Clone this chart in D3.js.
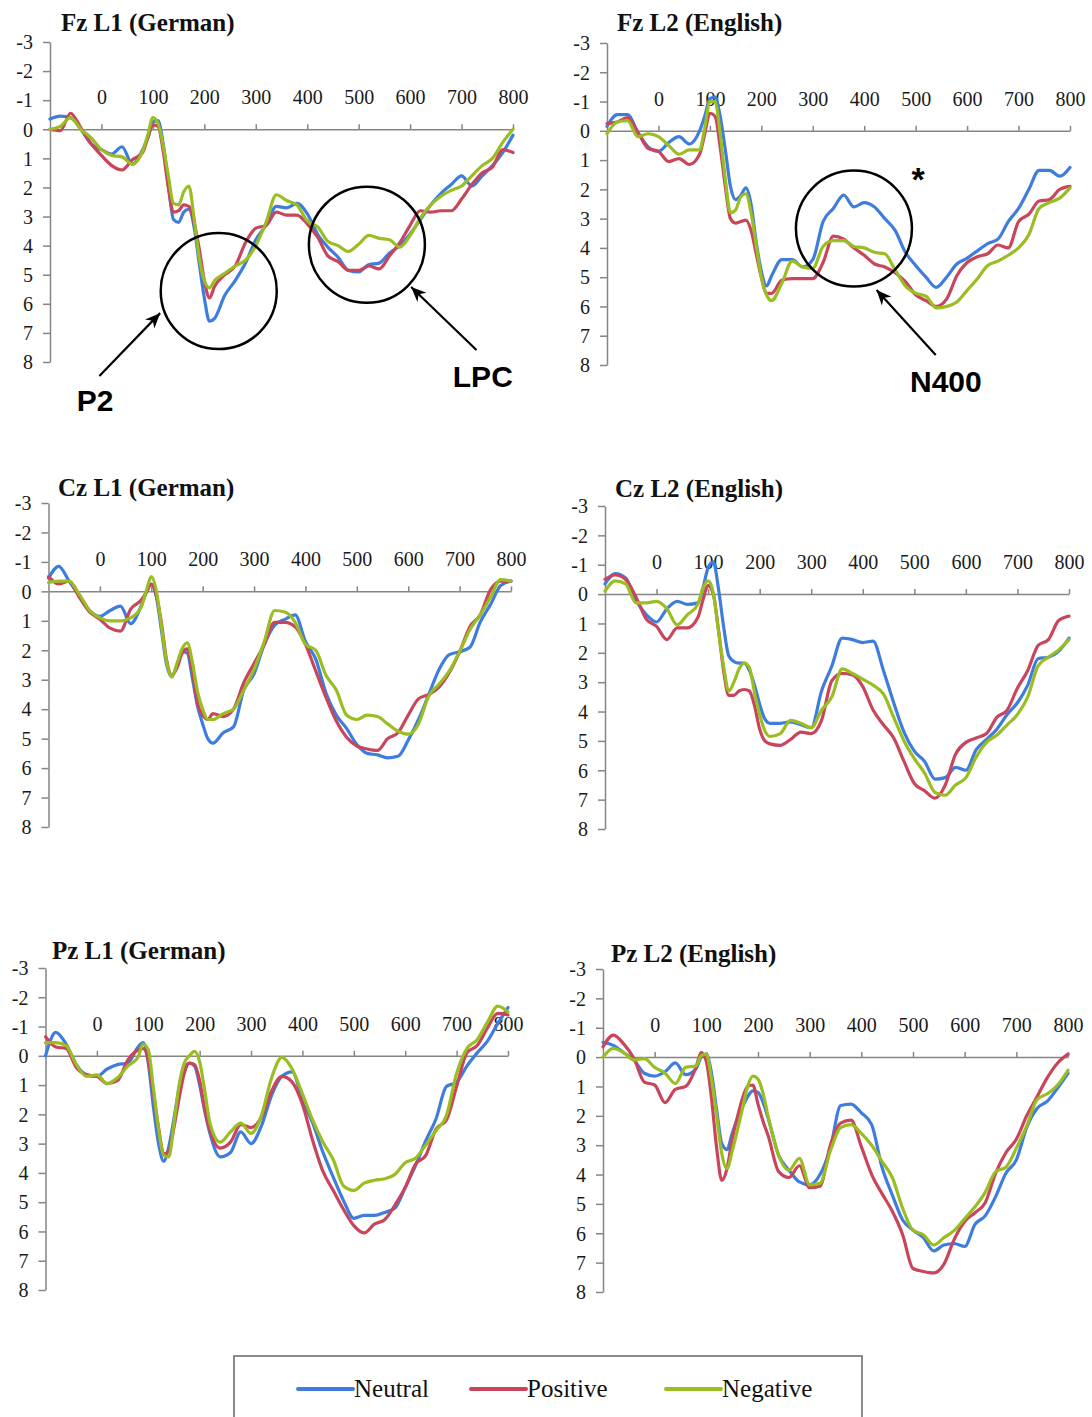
<!DOCTYPE html>
<html>
<head>
<meta charset="utf-8">
<script src="https://cdn.jsdelivr.net/npm/d3@7"></script>
<style>
  body { margin: 0; background: #ffffff; }
  svg { display: block; }
</style>
</head>
<body>
<svg id="fig" width="1092" height="1417"></svg>
<script>
// Sample times (ms after stimulus onset); denser around the early components
const times = [-100,-80,-60,-40,-20,0,20,40,60,80,
  90,100,110,120,130,140,150,160,170,180,190,200,210,220,
  240,260,280,300,320,340,360,380,400,420,440,460,480,500,520,540,560,580,600,620,640,660,680,700,720,740,760,780,800];

// Grand-average amplitudes (µV), one array per electrode / language / condition
const fzL1Neutral = [-0.35,-0.45,-0.4,0.0,0.5,0.7,0.85,0.6,1.2,0.7,
  0.3,-0.25,-0.3,0.5,1.9,3.1,3.2,2.85,2.75,3.35,4.6,5.8,6.6,6.5,
  5.7,5.2,4.6,3.8,3.3,2.65,2.7,2.55,2.9,3.6,4.05,4.4,4.85,4.9,4.65,4.6,4.25,4.0,3.6,3.1,2.6,2.2,1.9,1.6,1.95,1.6,1.25,0.8,0.2];
const fzL1Positive = [0.0,0.05,-0.55,-0.05,0.5,0.9,1.25,1.4,1.05,0.8,
  0.3,-0.15,-0.1,0.75,2.0,2.85,2.8,2.6,2.65,3.2,4.1,5.2,5.8,5.4,
  5.0,4.7,3.9,3.4,3.3,2.85,2.95,2.95,3.25,3.7,4.35,4.55,4.85,4.85,4.7,4.8,4.35,3.9,3.3,2.8,2.85,2.8,2.8,2.4,1.9,1.5,1.3,0.7,0.8];
const fzL1Negative = [0.0,-0.1,-0.4,0.0,0.3,0.7,0.9,0.95,1.2,0.75,
  0.2,-0.4,-0.2,0.55,1.6,2.55,2.6,2.15,1.95,3.05,4.4,5.2,5.45,5.2,
  4.95,4.7,4.5,4.0,3.2,2.25,2.45,2.6,3.15,3.35,3.85,4.0,4.2,3.95,3.65,3.75,3.8,4.05,3.65,3.05,2.6,2.3,2.1,1.95,1.6,1.25,1.0,0.45,0.0];

const fzL2Neutral = [-0.15,-0.55,-0.55,0.05,0.55,0.7,0.4,0.2,0.45,0.0,
  -0.5,-1.1,-1.15,-0.5,0.65,1.9,2.35,2.2,1.95,2.5,3.8,4.8,5.3,4.95,
  4.4,4.4,4.65,4.4,3.1,2.65,2.2,2.6,2.45,2.6,3.0,3.4,4.15,4.6,5.0,5.35,5.0,4.55,4.35,4.1,3.85,3.7,3.1,2.65,2.0,1.35,1.35,1.55,1.25];
const fzL2Positive = [-0.25,-0.3,-0.45,0.05,0.6,0.7,1.05,0.95,1.15,0.8,
  0.1,-0.6,-0.5,0.55,1.9,3.0,3.15,3.1,3.05,3.4,4.2,5.0,5.55,5.55,
  5.1,5.05,5.05,5.05,4.5,3.6,3.7,4.0,4.25,4.55,4.65,4.85,5.15,5.6,5.8,6.0,5.75,4.95,4.5,4.3,4.2,3.9,4.0,3.1,2.85,2.4,2.35,2.0,1.9];
const fzL2Negative = [0.1,-0.3,-0.35,0.2,0.1,0.2,0.5,0.8,0.65,0.65,
  -0.1,-1.0,-1.0,0.1,1.65,2.8,2.7,2.25,2.15,2.8,3.9,5.0,5.6,5.8,
  5.2,4.45,4.65,4.7,3.95,3.75,3.75,3.95,4.0,4.15,4.2,4.75,5.3,5.55,5.65,6.05,6.0,5.85,5.45,5.05,4.6,4.45,4.25,4.0,3.55,2.65,2.45,2.3,1.95];

const czL1Neutral = [-0.45,-0.85,-0.35,0.15,0.65,0.85,0.65,0.5,1.1,0.5,
  0.05,-0.25,0.2,1.35,2.5,2.9,2.5,2.05,2.1,2.95,3.9,4.5,5.0,5.15,
  4.8,4.6,3.35,2.8,1.8,1.15,0.95,0.8,1.7,2.3,3.45,4.2,4.65,5.2,5.5,5.55,5.65,5.6,5.05,4.35,3.5,2.65,2.15,2.05,1.9,1.05,0.45,-0.2,-0.35];
const czL1Positive = [-0.5,-0.25,-0.35,0.2,0.7,0.95,1.25,1.35,0.6,0.3,
  0.05,-0.25,0.15,1.1,2.35,2.85,2.6,2.1,1.95,2.7,3.8,4.2,4.35,4.15,
  4.25,4.0,3.1,2.45,1.8,1.05,1.05,1.2,1.8,2.7,3.6,4.4,4.95,5.25,5.35,5.4,5.0,4.8,4.2,3.65,3.5,3.25,2.75,2.05,1.2,0.8,-0.05,-0.35,-0.35];
const czL1Negative = [-0.3,-0.35,-0.35,0.1,0.65,0.9,1.0,1.0,0.9,0.55,
  0.0,-0.5,0.0,1.2,2.4,2.9,2.45,1.95,1.75,2.4,3.4,4.0,4.35,4.35,
  4.15,4.0,3.35,2.65,1.7,0.65,0.7,1.05,1.8,2.0,2.85,3.35,4.2,4.35,4.2,4.25,4.5,4.75,4.85,4.5,3.55,3.15,2.7,2.05,1.3,0.8,0.2,-0.4,-0.35];

const czL2Neutral = [-0.35,-0.7,-0.55,0.2,0.7,0.95,0.5,0.25,0.35,0.3,
  -0.2,-0.9,-1.1,-0.2,1.1,2.1,2.3,2.35,2.35,2.6,3.1,3.75,4.25,4.4,
  4.4,4.35,4.45,4.55,3.3,2.45,1.5,1.55,1.65,1.6,2.6,3.7,4.7,5.35,5.7,6.3,6.25,5.9,6.0,5.3,4.95,4.6,4.1,3.7,3.1,2.2,2.15,1.95,1.5];
const czL2Positive = [-0.5,-0.65,-0.5,0.1,0.85,1.1,1.55,1.15,1.15,0.8,
  0.2,-0.3,0.0,1.2,2.6,3.45,3.45,3.3,3.25,3.3,3.8,4.6,5.0,5.1,
  5.15,4.95,4.7,4.75,4.3,2.95,2.7,2.75,3.15,3.95,4.45,4.9,5.7,6.45,6.7,6.95,6.5,5.45,5.05,4.9,4.75,4.2,3.95,3.2,2.6,1.75,1.55,0.9,0.75];
const czL2Negative = [-0.1,-0.45,-0.35,0.3,0.3,0.25,0.5,1.05,0.7,0.35,
  -0.2,-0.45,-0.05,1.25,2.45,3.3,3.0,2.55,2.35,2.5,3.35,4.1,4.65,4.85,
  4.75,4.3,4.4,4.55,3.95,3.5,2.55,2.7,2.9,3.1,3.4,4.2,5.0,5.6,6.1,6.75,6.85,6.5,6.25,5.55,5.05,4.8,4.45,4.1,3.5,2.45,2.15,1.9,1.55];

const pzL1Neutral = [0.0,-0.8,-0.4,0.3,0.65,0.7,0.45,0.3,0.25,-0.3,
  -0.45,0.25,1.75,3.0,3.6,3.1,2.15,1.1,0.45,0.25,0.35,1.0,1.9,2.65,
  3.45,3.3,2.6,3.0,2.4,1.35,0.7,0.55,1.5,2.3,3.3,4.15,4.95,5.55,5.45,5.45,5.35,5.2,4.5,3.75,2.9,2.15,1.05,0.9,0.35,-0.1,-0.5,-1.1,-1.65];
const pzL1Positive = [-0.65,-0.3,-0.25,0.4,0.65,0.7,0.95,0.85,0.15,-0.2,
  -0.25,0.15,1.3,2.45,3.35,3.25,2.45,1.45,0.6,0.25,0.3,0.85,1.85,2.55,
  3.15,2.95,2.35,2.45,2.1,1.2,0.7,0.9,1.65,2.9,3.95,4.6,5.25,5.8,6.05,5.75,5.6,5.1,4.5,3.7,3.4,2.5,2.2,1.05,-0.1,-0.35,-0.95,-1.45,-1.4];
const pzL1Negative = [-0.45,-0.45,-0.35,0.3,0.7,0.65,0.95,0.75,0.35,0.05,
  -0.4,-0.2,1.1,2.5,3.4,3.45,2.3,1.0,0.25,0.0,-0.15,0.2,1.2,2.3,
  2.95,2.6,2.3,2.65,2.05,0.75,0.05,0.45,1.3,2.2,2.95,3.55,4.45,4.6,4.35,4.25,4.2,4.05,3.65,3.5,3.05,2.55,2.05,0.6,-0.25,-0.55,-1.15,-1.7,-1.5];

const pzL2Neutral = [-0.5,-0.4,-0.15,0.1,0.55,0.65,0.5,0.2,0.6,0.4,
  0.0,-0.1,0.55,1.8,2.95,3.15,2.6,2.1,1.7,1.35,1.15,1.2,1.55,2.1,
  3.35,3.85,4.25,4.35,4.0,3.1,1.65,1.6,1.9,2.3,3.75,4.7,5.55,5.9,6.15,6.6,6.4,6.35,6.45,5.7,5.4,4.75,3.95,3.5,2.4,1.75,1.5,1.05,0.55];
const pzL2Positive = [-0.35,-0.75,-0.45,0.05,0.85,0.95,1.55,1.1,1.0,0.35,
  -0.15,0.15,1.4,3.1,4.2,3.8,2.8,2.05,1.4,1.0,0.95,1.6,2.2,2.7,
  3.9,4.1,3.7,4.45,4.4,3.0,2.25,2.15,3.05,4.0,4.65,5.25,6.05,7.2,7.3,7.35,7.05,6.2,5.6,5.3,4.95,3.95,3.25,2.8,2.0,1.35,0.7,0.2,-0.1];
const pzL2Negative = [0.0,-0.3,-0.15,0.1,0.05,0.35,0.55,0.9,0.35,0.3,
  -0.05,-0.1,0.75,2.0,3.3,3.8,3.2,2.5,1.75,1.0,0.65,0.75,1.25,2.05,
  3.35,3.85,3.45,4.35,4.3,3.2,2.4,2.3,2.6,3.0,3.55,4.1,5.15,5.9,6.05,6.4,6.15,5.9,5.5,5.1,4.6,3.9,3.75,3.1,2.35,1.45,1.25,0.95,0.45];

// Axis ticks
const xTicks = [0,100,200,300,400,500,600,700,800];
const yTicks = [-3,-2,-1,0,1,2,3,4,5,6,7,8];

const conditions = ["Neutral","Positive","Negative"];
const panelTitles = ["Fz L1 (German)","Fz L2 (English)","Cz L1 (German)","Cz L2 (English)","Pz L1 (German)","Pz L2 (English)"];
const panelSeries = [
  [fzL1Neutral, fzL1Positive, fzL1Negative],
  [fzL2Neutral, fzL2Positive, fzL2Negative],
  [czL1Neutral, czL1Positive, czL1Negative],
  [czL2Neutral, czL2Positive, czL2Negative],
  [pzL1Neutral, pzL1Positive, pzL1Negative],
  [pzL2Neutral, pzL2Positive, pzL2Negative]
];

// ---------- layout & style ----------
const colors = ["#3e7ddd", "#c8455b", "#9abd22"];
const serif = "'Liberation Serif','Times New Roman',Times,serif";
const sans = "'Liberation Sans',Arial,Helvetica,sans-serif";
const axisColor = "#858585";

// plot rectangle of each panel: x of -100 ms and 800 ms, y of -3 and 8 µV
const panelBoxes = [
  {x0: 50,   x1: 513,  y0: 42,  y1: 362,  tx: 61,  ty: 31},
  {x0: 607,  x1: 1070, y0: 43,  y1: 365,  tx: 617, ty: 31},
  {x0: 48.5, x1: 511,  y0: 503, y1: 827,  tx: 58,  ty: 496},
  {x0: 605,  x1: 1069, y0: 506, y1: 829,  tx: 615, ty: 497},
  {x0: 45.5, x1: 508,  y0: 968, y1: 1290, tx: 52,  ty: 959},
  {x0: 603,  x1: 1068, y0: 969, y1: 1292, tx: 611, ty: 962}
];

const svg = d3.select("#fig");
svg.append("rect").attr("width", 1092).attr("height", 1417).attr("fill", "#fff");

// arrowhead used by the component call-outs
svg.append("defs").append("marker")
  .attr("id", "arrowhead")
  .attr("viewBox", "-16 -8 18 16")
  .attr("refX", 0).attr("refY", 0)
  .attr("markerWidth", 18).attr("markerHeight", 16)
  .attr("markerUnits", "userSpaceOnUse")
  .attr("orient", "auto")
  .append("path")
  .attr("d", "M0,0 L-15,-6.5 L-10.5,0 L-15,6.5 Z")
  .attr("fill", "#000");

const scales = [];

panelBoxes.forEach((b, p) => {
  const x = d3.scaleLinear().domain([-100, 800]).range([b.x0, b.x1]);
  const y = d3.scaleLinear().domain([-3, 8]).range([b.y0, b.y1]);
  scales.push({x, y});
  const g = svg.append("g");

  // title
  g.append("text")
    .attr("x", b.tx).attr("y", b.ty)
    .attr("font-family", serif).attr("font-weight", "bold")
    .attr("font-size", 25).attr("fill", "#111")
    .text(panelTitles[p]);

  // vertical amplitude axis (negative up)
  const yAxis = g.append("g")
    .attr("transform", `translate(${b.x0},0)`)
    .call(d3.axisLeft(y).tickValues(yTicks).tickSize(7).tickSizeOuter(0)
      .tickPadding(10).tickFormat(d => String(d)));

  // horizontal time axis through 0 µV, labels above
  const xAxis = g.append("g")
    .attr("transform", `translate(0,${y(0)})`)
    .call(d3.axisTop(x).tickValues(xTicks).tickSize(5).tickSizeOuter(0)
      .tickPadding(20).tickFormat(d => String(d)));

  [yAxis, xAxis].forEach(ax => {
    ax.select(".domain").attr("stroke", axisColor).attr("stroke-width", 1.5);
    ax.selectAll(".tick line").attr("stroke", axisColor).attr("stroke-width", 1.5);
    ax.selectAll(".tick text")
      .attr("font-family", serif).attr("font-size", 20).attr("fill", "#1a1a1a");
  });
  yAxis.selectAll(".tick text").attr("dy", "0.34em");

  // waveforms
  const line = d3.line()
    .x((d, i) => x(times[i]))
    .y(d => y(d))
    .curve(d3.curveMonotoneX);

  panelSeries[p].forEach((vals, k) => {
    g.append("path")
      .datum(vals)
      .attr("d", line)
      .attr("fill", "none")
      .attr("stroke", colors[k])
      .attr("stroke-width", 3.2)
      .attr("stroke-linejoin", "round")
      .attr("stroke-linecap", "round");
  });
});

// ---------- component call-outs (time in ms, amplitude in µV) ----------
const callouts = [
  {panel: 0, label: "P2",   circle: [228, 5.56], from: [-4, 8.48],  to: [114, 6.32], text: [-48, 9.69]},
  {panel: 0, label: "LPC",  circle: [516, 3.97], from: [729, 7.59], to: [602, 5.42], text: [683, 8.86]},
  {panel: 1, label: "N400", circle: [380, 3.34], from: [539, 7.66], to: [424, 5.44], text: [489, 8.91]}
];

callouts.forEach(c => {
  const {x, y} = scales[c.panel];
  svg.append("circle")
    .attr("cx", x(c.circle[0])).attr("cy", y(c.circle[1])).attr("r", 58)
    .attr("fill", "none").attr("stroke", "#000").attr("stroke-width", 2.5);
  svg.append("line")
    .attr("x1", x(c.from[0])).attr("y1", y(c.from[1]))
    .attr("x2", x(c.to[0])).attr("y2", y(c.to[1]))
    .attr("stroke", "#000").attr("stroke-width", 2.2)
    .attr("marker-end", "url(#arrowhead)");
  svg.append("text")
    .attr("x", x(c.text[0])).attr("y", y(c.text[1]))
    .attr("font-family", sans).attr("font-weight", "bold")
    .attr("font-size", 30).attr("fill", "#000")
    .text(c.label);
});

// significance marker for the L2 N400 window
{
  const {x, y} = scales[1];
  svg.append("text")
    .attr("x", x(505)).attr("y", y(2.05))
    .attr("text-anchor", "middle")
    .attr("font-family", sans).attr("font-weight", "bold")
    .attr("font-size", 34).attr("fill", "#000")
    .text("*");
}

// ---------- legend ----------
const legend = svg.append("g");
legend.append("rect")
  .attr("x", 234).attr("y", 1356).attr("width", 628).attr("height", 100)
  .attr("fill", "none").attr("stroke", "#666").attr("stroke-width", 1.5);

const legendX = [298, 471, 666];
conditions.forEach((name, k) => {
  legend.append("line")
    .attr("x1", legendX[k]).attr("x2", legendX[k] + 55)
    .attr("y1", 1389).attr("y2", 1389)
    .attr("stroke", colors[k]).attr("stroke-width", 4)
    .attr("stroke-linecap", "round");
  legend.append("text")
    .attr("x", legendX[k] + 56).attr("y", 1397)
    .attr("font-family", serif).attr("font-size", 25).attr("fill", "#111")
    .text(name);
});
</script>
</body>
</html>
